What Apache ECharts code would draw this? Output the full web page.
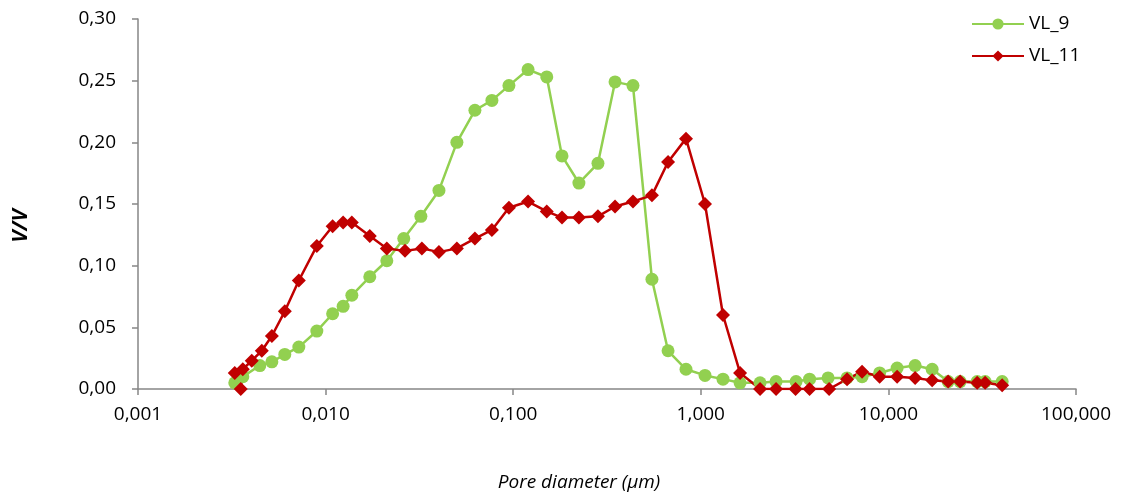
<!DOCTYPE html>
<html>
<head>
<meta charset="utf-8">
<script src="https://cdn.jsdelivr.net/npm/echarts@6/dist/echarts.min.js"></script>
<style>
html,body{margin:0;padding:0;background:#fff;}
#chart{width:1125px;height:497px;}
</style>
</head>
<body>
<div id="chart"></div>
<script>
// Pore diameter (µm) and V/V values
var vl9Diam = [0.00328, 0.00362, 0.00446, 0.00517, 0.00606, 0.00720, 0.00898, 0.0109, 0.0124, 0.0138, 0.0172, 0.0212, 0.0261, 0.0322, 0.0402, 0.0501, 0.0625, 0.0770, 0.0949, 0.120, 0.151, 0.182, 0.224, 0.283, 0.349, 0.435, 0.549, 0.669, 0.834, 1.053, 1.313, 1.619, 2.069, 2.518, 3.22, 3.80, 4.77, 6.02, 7.24, 8.98, 11.13, 13.88, 17.11, 20.82, 24.12, 29.73, 32.79, 40.40];
var vl9Vals = [0.005, 0.010, 0.019, 0.022, 0.028, 0.034, 0.047, 0.061, 0.067, 0.076, 0.091, 0.104, 0.122, 0.140, 0.161, 0.200, 0.226, 0.234, 0.246, 0.259, 0.253, 0.189, 0.167, 0.183, 0.249, 0.246, 0.089, 0.031, 0.016, 0.011, 0.008, 0.005, 0.005, 0.006, 0.006, 0.008, 0.009, 0.009, 0.010, 0.013, 0.017, 0.019, 0.016, 0.006, 0.006, 0.006, 0.006, 0.006];

var vl11Diam = [0.00328, 0.00353, 0.00362, 0.00404, 0.00457, 0.00517, 0.00606, 0.00720, 0.00898, 0.0109, 0.0124, 0.0138, 0.0172, 0.0212, 0.0265, 0.0326, 0.0402, 0.0501, 0.0625, 0.0770, 0.0949, 0.120, 0.151, 0.182, 0.224, 0.283, 0.349, 0.435, 0.549, 0.669, 0.834, 1.053, 1.313, 1.619, 2.069, 2.518, 3.20, 3.80, 4.83, 6.02, 7.24, 8.98, 11.13, 13.88, 17.11, 20.82, 24.12, 29.73, 32.79, 40.40];
var vl11Vals = [0.013, 0.000, 0.016, 0.023, 0.031, 0.043, 0.063, 0.088, 0.116, 0.132, 0.135, 0.135, 0.124, 0.114, 0.112, 0.114, 0.111, 0.114, 0.122, 0.129, 0.147, 0.152, 0.144, 0.139, 0.139, 0.140, 0.148, 0.152, 0.157, 0.184, 0.203, 0.150, 0.060, 0.013, 0.000, 0.000, 0.000, 0.000, 0.000, 0.008, 0.014, 0.010, 0.010, 0.009, 0.007, 0.006, 0.006, 0.005, 0.005, 0.003];

var seriesNames = ['VL_9', 'VL_11'];
var xTitle = 'Pore diameter (µm)';
var yTitle = 'V/V';

function pairs(xs, ys) {
  var out = [];
  for (var i = 0; i < xs.length; i++) out.push([xs[i], ys[i]]);
  return out;
}

var FONT = 'Open Sans';
var chart = echarts.init(document.getElementById('chart'), null, {renderer: 'canvas'});
chart.setOption({
  animation: false,
  backgroundColor: '#ffffff',
  grid: {left: 138, right: 49, top: 19, bottom: 108, containLabel: false},
  legend: {
    orient: 'vertical',
    left: 966,
    top: 9,
    itemWidth: 52,
    itemHeight: 14,
    itemGap: 12,
    textStyle: {fontFamily: FONT, fontSize: 19, color: '#000', lineHeight: 20},
    data: seriesNames
  },
  xAxis: {
    type: 'log',
    logBase: 10,
    min: 0.001,
    max: 100,
    axisLine: {show: true, onZero: false, lineStyle: {color: '#868686', width: 1.5}},
    axisTick: {show: true, length: 6, lineStyle: {color: '#868686', width: 1.5}},
    minorTick: {show: false},
    splitLine: {show: false},
    axisLabel: {
      margin: 16,
      fontFamily: FONT, fontSize: 19, color: '#000',
      formatter: function (v) { return v.toFixed(3).replace('.', ','); }
    }
  },
  yAxis: {
    type: 'value',
    min: 0,
    max: 0.3,
    interval: 0.05,
    axisLine: {show: true, lineStyle: {color: '#868686', width: 1.5}},
    axisTick: {show: true, length: 6, lineStyle: {color: '#868686', width: 1.5}},
    splitLine: {show: false},
    axisLabel: {
      margin: 22,
      fontFamily: FONT, fontSize: 19, color: '#000',
      formatter: function (v) { return v.toFixed(2).replace('.', ','); }
    }
  },
  graphic: [
    {
      type: 'text',
      x: 21, y: 226,
      rotation: Math.PI / 2,
      style: {
        text: yTitle,
        fontFamily: FONT, fontSize: 21, fontWeight: 'bold', fontStyle: 'italic',
        fill: '#000', align: 'center', verticalAlign: 'middle'
      }
    },
    {
      type: 'text',
      x: 579, y: 483,
      style: {
        text: xTitle,
        fontFamily: FONT, fontSize: 19, fontStyle: 'italic',
        fill: '#000', align: 'center', verticalAlign: 'middle'
      }
    }
  ],
  series: [
    {
      name: seriesNames[0],
      type: 'line',
      data: pairs(vl9Diam, vl9Vals),
      symbol: 'circle',
      symbolSize: 13,
      showAllSymbol: true,
      color: '#92D050',
      lineStyle: {color: '#92D050', width: 2.5},
      itemStyle: {color: '#92D050'}
    },
    {
      name: seriesNames[1],
      type: 'line',
      data: pairs(vl11Diam, vl11Vals),
      symbol: 'diamond',
      symbolSize: 14,
      showAllSymbol: true,
      color: '#C00000',
      lineStyle: {color: '#C00000', width: 2.5},
      itemStyle: {color: '#C00000'}
    }
  ]
});
</script>
</body>
</html>
